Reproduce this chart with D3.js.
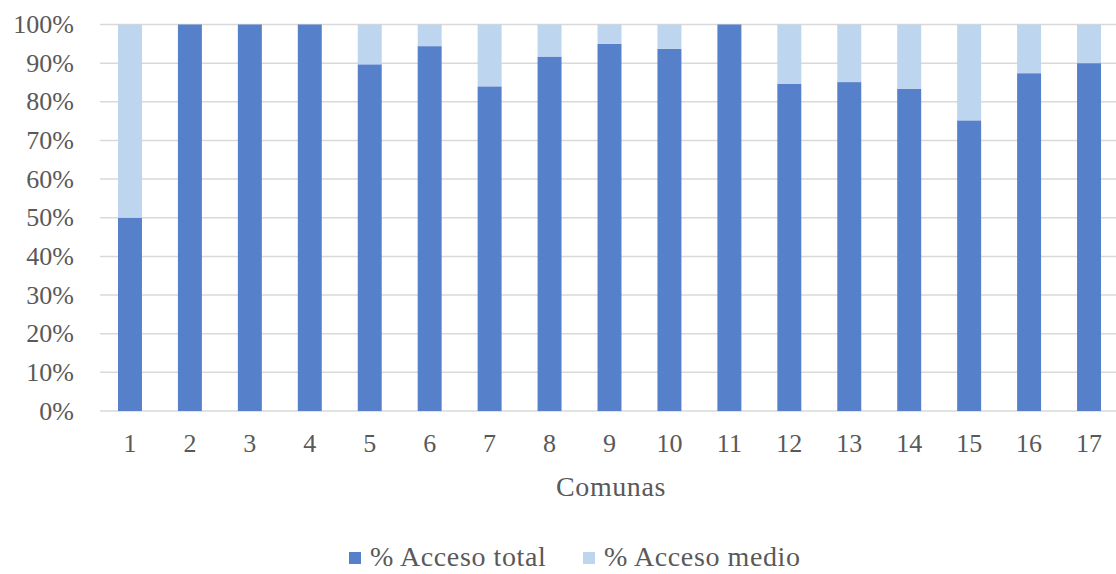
<!DOCTYPE html>
<html><head><meta charset="utf-8">
<script src="https://cdn.jsdelivr.net/npm/d3@7"></script>
<style>body{margin:0;background:#fff}svg{display:block}</style>
</head><body>
<script>
const categories = ["1","2","3","4","5","6","7","8","9","10","11","12","13","14","15","16","17"];
const accesoTotal = [50,100,100,100,89.7,94.4,84,91.7,95,93.7,100,84.7,85.1,83.4,75.2,87.4,90];
const accesoMedio = [50,0,0,0,10.3,5.6,16,8.3,5,6.3,0,15.3,14.9,16.6,24.8,12.6,10];
const seriesNames = ["% Acceso total","% Acceso medio"];
const yTicks = [0,10,20,30,40,50,60,70,80,90,100];
const colors = ["#5681CA","#BDD5EE"];
const FONT = "'Liberation Serif', 'DejaVu Serif', serif";

const W=1116,H=574;
const svg=d3.select("body").append("svg").attr("width",W).attr("height",H)
  .attr("font-family",FONT).attr("fill","#595959");
const x=d3.scaleBand().domain(categories).range([100,1119]).paddingInner(0.6).paddingOuter(0.3);
const y=d3.scaleLinear().domain([0,100]).range([411,24.5]);

svg.append("g").selectAll("line").data(yTicks).join("line")
  .attr("x1",100).attr("x2",W).attr("y1",d=>y(d)).attr("y2",d=>y(d))
  .attr("stroke","#d9d9d9").attr("stroke-width",1.5);

const data=categories.map((c,i)=>({c,t:accesoTotal[i],m:accesoMedio[i]}));
svg.append("g").selectAll("rect").data(data).join("rect")
  .attr("x",d=>x(d.c)).attr("width",x.bandwidth())
  .attr("y",d=>y(d.t)).attr("height",d=>y(0)-y(d.t)).attr("fill",colors[0]);
svg.append("g").selectAll("rect").data(data.filter(d=>d.m>0)).join("rect")
  .attr("x",d=>x(d.c)).attr("width",x.bandwidth())
  .attr("y",d=>y(d.t+d.m)).attr("height",d=>y(d.t)-y(d.t+d.m)).attr("fill",colors[1]);

const fs=26;
svg.append("g").selectAll("text").data(yTicks).join("text")
  .attr("x",74).attr("y",d=>y(d)).attr("dy","0.33em").attr("text-anchor","end")
  .attr("font-size",fs).attr("font-family",FONT).attr("fill","#595959").text(d=>d+"%");
svg.append("g").selectAll("text").data(categories).join("text")
  .attr("x",d=>x(d)+x.bandwidth()/2).attr("y",452).attr("text-anchor","middle")
  .attr("font-size",fs).attr("font-family",FONT).attr("fill","#595959").text(d=>d);
svg.append("text").attr("x",611).attr("y",496).attr("text-anchor","middle").attr("font-size",28)
  .attr("letter-spacing",0.6).attr("font-family",FONT).attr("fill","#595959").text("Comunas");

const leg=[{x:349,tx:370},{x:583,tx:604}];
seriesNames.forEach((n,i)=>{
  svg.append("rect").attr("x",leg[i].x).attr("y",552).attr("width",12).attr("height",12).attr("fill",colors[i]);
  svg.append("text").attr("x",leg[i].tx).attr("y",566).attr("font-size",28).attr("letter-spacing",0.6)
    .attr("font-family",FONT).attr("fill","#595959").text(n);
});
</script>
</body></html>
